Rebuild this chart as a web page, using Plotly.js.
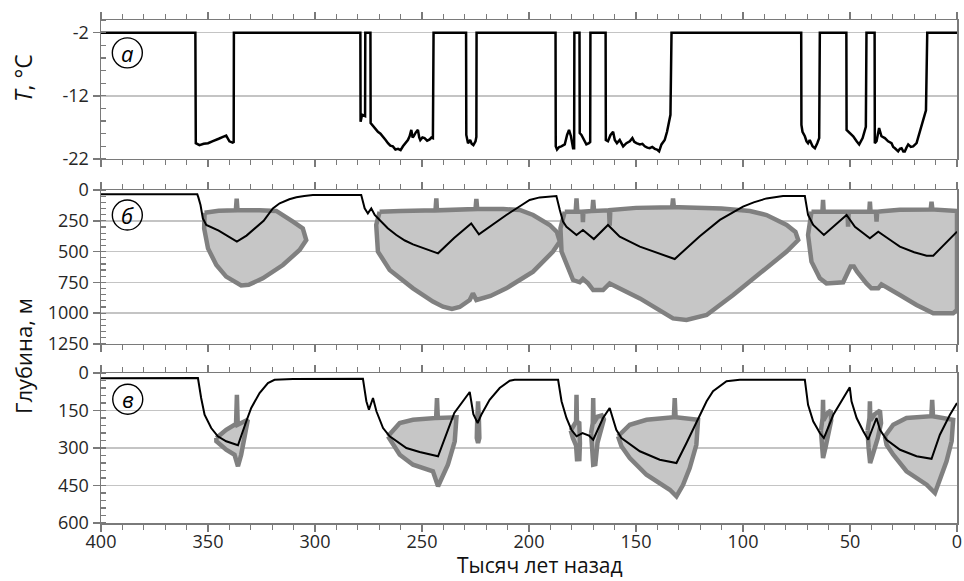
<!DOCTYPE html>
<html>
<head>
<meta charset="utf-8">
<script src="https://cdn.plot.ly/plotly-3.0.1.min.js"></script>
<style>html,body{margin:0;padding:0;background:#fff}#chart{width:964px;height:581px}</style>
</head>
<body>
<div id="chart"></div>
<script>
// ---------- Panel (a): temperature, °C ----------
const tempAge = [400,355.9,355.7,354,352,350,348,346,345,343,341.5,340,338.5,338.0,337.9,
 278.8,278.7,278,276.6,276.5,274.1,274,272.9,271.5,270.6,269.4,268.3,267,265.9,264.8,263.6,262.4,261.2,260,258.9,257.8,256.6,255.8,255,254.4,253.9,252.9,251.9,251.3,250.8,249.8,248.8,247.6,246.4,245.6,244.9,244.6,
 229.4,229.3,228.5,227.5,226.8,226,225,224.6,224.5,
 187.6,187.5,186.9,185.9,184.9,183.3,182.2,181.3,180.4,179.4,178.9,178.8,
 176.4,176.3,175.5,174.4,173.2,172,171.4,171.3,
 164.2,164.1,163.1,161.9,160.7,159.9,158.9,157.6,156.8,156,154.5,152.9,151.7,150.8,149.8,148.2,147,145.9,144.7,143.6,142.4,141.2,140.2,139.2,138.1,136.6,135.5,134.5,133.9,133.4,
 72.8,72.7,72.2,71.1,70.3,69.6,68.8,67.5,66.4,65.3,64.4,64.1,
 51.7,51.6,50.1,48.5,46.9,45.7,44.1,42.6,42.3,
 38.5,38.4,37.6,36.4,35.3,33.7,32.2,30.6,29.8,29,28.2,27.5,26.7,25.9,25.1,24.4,23.6,22.8,21.6,20.5,18.9,17.3,15.5,14.5,13.9,0];
const tempVal = [-2,-2,-19.5,-19.8,-19.6,-19.5,-19.2,-19.0,-18.8,-18.5,-18.3,-19.2,-19.4,-19.3,-2,
 -2,-16.1,-15,-15.2,-2,-2,-16.3,-16.8,-17.3,-17.7,-18.0,-18.4,-19.0,-19.5,-19.9,-20,-20.5,-20.4,-20.6,-20,-19.6,-19,-18.4,-17.4,-18.6,-18.4,-17.8,-17.4,-18.6,-19,-18.6,-18.7,-19.1,-18.9,-18.6,-18.7,-2,
 -2,-18.2,-19.5,-19,-19.6,-19.8,-19.2,-18.5,-2,
 -2,-20,-20.5,-20.1,-20,-19.7,-18.2,-17.4,-18.4,-20.3,-20.3,-2,
 -2,-17.9,-18.2,-19,-19.7,-19.5,-19.3,-2,
 -2,-19,-19.2,-18.2,-17.7,-19,-19.5,-19,-19.6,-20,-19.5,-19.2,-18.7,-19.3,-19.5,-19.7,-19.6,-20,-20.2,-20.3,-20.1,-20.4,-20.5,-20.8,-19.7,-19,-17.7,-15.6,-15,-2,
 -2,-16.6,-17.7,-18.4,-19.2,-19.5,-19,-20,-20.3,-19.5,-18.7,-2,
 -2,-17.4,-17.9,-18.4,-19.2,-19.7,-18.7,-16.9,-2,
 -2,-19.5,-19.2,-17.1,-18.4,-18.7,-19.2,-19.5,-20.1,-20.3,-20.6,-20.8,-20.4,-20.3,-20.8,-20.8,-20.2,-19.7,-20.1,-20,-19.5,-17.7,-15.8,-14.3,-2,-2];

// ---------- Panel (б): depth, m ----------
const bLineAge = [400,355,354.5,353.5,352.4,350.8,345,340,336.5,332,328,324,319.7,316.5,312,308.7,305,301,278.4,276.8,275.3,273.7,272.1,269.8,266,262,258,254.2,248,242.5,235,227,223.4,217,210.6,205,199.7,195,190,187.2,185.6,184.1,182.5,177.8,174.8,169.7,163.1,157.6,148.2,140,131.9,120.2,110.8,100,95,89,81.3,71.1,69.6,67.2,62.2,51.6,47.7,40.7,36.8,30,26.7,20,14.2,11.1,0];
const bLineDepth = [35,35,60,122,230,284,330,380,419,370,310,250,149,108,75,59,48,41,41,149,190,149,203,243,310,365,410,441,480,514,390,271,360,280,203,140,81,60,52,49,162,257,298,365,325,398,284,379,460,510,560,375,243,135,100,68,49,49,203,284,365,203,298,392,338,420,460,505,533,533,338];

const bZone1Age = [351.6,351.8,350,346.1,341.5,336.8,334.5,331,324.4,315,307.2,304.1,305.7,310.3,315,318.1,326,336.2,336.6,337,345,351.6];
const bZone1Depth = [185,311,474,609,703,758,775,770,717,609,487,406,311,257,203,170,165,165,70,165,168,185];
const bZone2Age = [269.8,271.4,270.6,265.1,254.2,244.9,240.2,236,232.4,227.7,226.2,224.6,218,210.6,198.1,188.8,185.6,187,190.3,198.1,204.3,212,224.2,224.6,225,243,243.3,243.7,260,269.8];
const bZone2Depth = [176,284,500,649,798,906,947,966,950,893,839,893,860,798,663,500,419,340,284,203,162,155,155,73,155,165,68,165,170,176];
const bZone3Age = [183.3,185.3,184.8,181.8,179.4,176.3,174.8,172.4,170,165.4,162.3,148.2,132.7,126.4,117,104.6,89,79.6,74.2,75.5,79.6,89,96.8,110,130,132.3,132.7,133.1,150,162,162.3,162.6,169.6,170,170.4,174.6,174.8,175,177.4,177.8,178.2,183.3];
const bZone3Depth = [176,311,500,636,731,749,722,758,812,812,758,880,1042,1055,1015,852,636,500,406,340,284,203,170,150,140,140,68,140,145,162,290,165,170,81,170,176,260,176,176,68,176,176];
const bZone4Age = [68,69.6,68,64.1,61,53.2,51.6,49.7,48.2,46.7,42.3,40,36.8,35.3,26.7,18.9,11.1,1.8,0,0,11.5,11.9,12.3,26.7,35,37.3,37.6,37.9,40.4,40.7,41,50.6,50.9,51.2,62.3,62.6,62.9,68];
const bZone4Depth = [176,365,582,717,758,749,690,622,622,663,758,798,798,766,852,933,1001,1001,974,170,158,95,158,160,172,176,257,176,176,95,176,176,298,176,176,81,176,176];

// ---------- Panel (в): depth, m ----------
const cLineAge = [400,354.7,353.2,351.6,348.5,345.4,341.5,336,332.1,329.8,325.9,322,318.9,310.3,277.6,276,274.8,272.9,271.3,268.2,265.1,257.3,251.1,242.5,234.9,227.7,226,224,222.3,218.4,213.7,209,206.7,186.4,184.8,182.5,180.2,177.8,175,172,170,167.5,165.4,162.3,159.2,156.8,148.2,138.9,131.1,126.4,121.7,117,114,110.8,107.7,101.5,71.1,69.6,67.2,64.1,62.2,57.8,53.2,50.1,49.3,46.9,43.8,41.5,37.6,36,32.9,26.6,18.9,11.9,8,3.3,0];
const cLineDepth = [21,20,100,167,220,253,273,289,193,140,80,40,27,24,23,113,147,100,153,220,253,300,316,333,160,76,165,200,167,107,60,31,27,27,113,180,227,253,240,250,267,220,180,140,227,260,313,347,360,280,193,113,73,53,33,27,27,127,193,240,260,167,100,57,113,180,233,267,180,227,267,307,333,343,247,167,120];

const cZoneAAge = [346.1,341.5,337.6,336.9,336.5,336.1,331.4,332.9,334.5,336,337.6,341.5,346.1,346.1];
const cZoneADepth = [260,227,207,207,87,207,187,260,327,373,327,307,273,260];
const cZoneBAge = [265.9,260.4,254.2,244.9,243.4,243,242.6,233.9,234.7,237.9,242.5,244.9,254.2,260.4,264.3,265.9];
const cZoneBDepth = [253,200,187,180,180,100,180,177,273,367,453,393,367,327,280,253];
const cZoneB2Age = [224.2,223.8,223.4,223.2,223.8,224.4,224.2];
const cZoneB2Depth = [190,113,190,260,280,260,190];
const cZoneC1Age = [180.5,179,178,177.8,177.6,176.5,176.2,176.5,177,177.5,178,179.5,180.5];
const cZoneC1Depth = [230,205,195,87,195,200,280,353,300,353,290,260,230];
const cZoneC2Age = [171,170.2,170,169.8,168,166,165,166.5,168,169,170,170.5,171];
const cZoneC2Depth = [240,200,100,200,175,170,185,230,280,365,367,300,240];
const cZoneDAge = [158.4,152.9,145.1,132.7,132.3,131.9,131.5,121,121.8,124.9,128,131.1,134.2,145.1,152.9,156.8,158.4];
const cZoneDDepth = [253,207,187,177,177,100,177,187,287,380,447,493,467,407,340,293,253];
const cZoneEAge = [63.6,63,62.8,62.6,62.4,60.5,59,58.8,59.8,61.5,62.6,63.2,63.6];
const cZoneEDepth = [230,190,180,107,190,160,150,190,240,300,340,290,230];
const cZoneFAge = [41.8,41,40.9,40.7,40.5,38.5,36,35.5,37,39.5,40.6,41.3,41.8];
const cZoneFDepth = [230,190,180,113,190,165,150,200,260,330,360,300,230];
const cZoneGAge = [33.7,29.8,23.6,12.7,12,11.6,11.2,1.8,2.5,4.9,8,10.3,14.2,23.6,29.8,32.9,33.7];
const cZoneGDepth = [253,207,180,173,173,107,173,187,273,353,433,480,447,393,327,287,253];

// ---------- Axis tick labels ----------
const xTickVals = [400,350,300,250,200,150,100,50,0];
const xTickText = ['400','350','300','250','200','150','100','50','0'];
const tTickVals = [-2,-12,-22];
const tTickText = ['-2','-12','-22'];
const bTickVals = [0,250,500,750,1000,1250];
const bTickText = ['0','250','500','750','1000','1250'];
const cTickVals = [0,150,300,450,600];
const cTickText = ['0','150','300','450','600'];

function joinZones(list){
  const xs=[], ys=[];
  list.forEach((z,i)=>{ if(i){xs.push(null);ys.push(null);} xs.push(...z[0]); ys.push(...z[1]); });
  return [xs,ys];
}
const bZones = joinZones([[bZone1Age,bZone1Depth],[bZone2Age,bZone2Depth],[bZone3Age,bZone3Depth],[bZone4Age,bZone4Depth]]);
const cZones = joinZones([[cZoneAAge,cZoneADepth],[cZoneBAge,cZoneBDepth],[cZoneB2Age,cZoneB2Depth],[cZoneC1Age,cZoneC1Depth],[cZoneC2Age,cZoneC2Depth],[cZoneDAge,cZoneDDepth],[cZoneEAge,cZoneEDepth],[cZoneFAge,cZoneFDepth],[cZoneGAge,cZoneGDepth]]);

const zoneLine = {color:'#808080', width:4.5};
const zoneFill = '#c6c6c6';

const traces = [
  {x:tempAge, y:tempVal, xaxis:'x', yaxis:'y', mode:'lines', line:{color:'#000', width:2.5}},
  {x:bZones[0], y:bZones[1], xaxis:'x2', yaxis:'y2', mode:'lines', fill:'toself', fillcolor:zoneFill, line:zoneLine},
  {x:bLineAge, y:bLineDepth, xaxis:'x2', yaxis:'y2', mode:'lines', line:{color:'#000', width:2}},
  {x:cZones[0], y:cZones[1], xaxis:'x3', yaxis:'y3', mode:'lines', fill:'toself', fillcolor:zoneFill, line:zoneLine},
  {x:cLineAge, y:cLineDepth, xaxis:'x3', yaxis:'y3', mode:'lines', line:{color:'#000', width:2}}
];

const tickFont = {family:'Open Sans, sans-serif', size:18, color:'#262626'};
const axLine = '#7a7a7a';
function xAx(anchor, labels){
  return {anchor:anchor, range:[400,0], tickmode:'array', tickvals:xTickVals, ticktext:xTickText,
    showticklabels:labels, ticks:'outside', ticklen:7, tickwidth:1.5, tickcolor:axLine,
    minor:{tickmode:'linear', tick0:0, dtick:10, ticks:'outside', ticklen:5, tickwidth:1.2, tickcolor:axLine, showgrid:false},
    showline:true, linecolor:axLine, linewidth:1.5, mirror:'ticks', showgrid:false, zeroline:false,
    tickfont:tickFont, ticklabelstandoff:-5};
}
function yAx(domain, range, vals, text, minorStep){
  return {domain:domain, range:range, tickmode:'array', tickvals:vals, ticktext:text,
    ticks:'outside', ticklen:7, tickwidth:1.5, tickcolor:axLine,
    minor:{tickmode:'linear', tick0:0, dtick:minorStep, ticks:'inside', ticklen:5, tickwidth:1.2, tickcolor:axLine, showgrid:false},
    showline:true, linecolor:axLine, linewidth:1.5, mirror:true,
    showgrid:true, gridcolor:'#c4c4c4', gridwidth:1.5, zeroline:false, tickfont:tickFont};
}

function circle(xa, ya, cx, cy){
  return {type:'circle', xref:xa, yref:ya, xsizemode:'pixel', ysizemode:'pixel', xanchor:cx, yanchor:cy,
    x0:-15, x1:15, y0:-15, y1:15, line:{color:'#000', width:1.4}};
}
function letter(xa, ya, cx, cy, t){
  return {xref:xa, yref:ya, x:cx, y:cy, text:'<i>'+t+'</i>', showarrow:false,
    font:{family:'Open Sans, sans-serif', size:22, color:'#000'}, xanchor:'center', yanchor:'middle'};
}

const layout = {
  width:964, height:581, margin:{l:101, r:7, t:20, b:58},
  paper_bgcolor:'#fff', plot_bgcolor:'#fff', showlegend:false, hovermode:false,
  xaxis:xAx('y', false), xaxis2:xAx('y2', false), xaxis3:xAx('y3', true),
  yaxis:yAx([0.7237,1], [-22,0], tTickVals, tTickText, 2),
  yaxis2:yAx([0.3559,0.662], [1250,0], bTickVals, bTickText, 50),
  yaxis3:yAx([0,0.2982], [600,0], cTickVals, cTickText, 30),
  shapes:[circle('x','y',387.7,-5.2), circle('x2','y2',387.7,203), circle('x3','y3',387.5,105)],
  annotations:[
    letter('x','y',387.7,-5.2,'a'), letter('x2','y2',387.7,203,'б'), letter('x3','y3',387.5,105,'в'),
    {xref:'paper', yref:'paper', x:-0.0911, y:0.8847, text:'<i>T</i>, °C', textangle:-90, showarrow:false,
      font:{family:'Open Sans, sans-serif', size:23, color:'#111'}, xanchor:'center', yanchor:'middle'},
    {xref:'paper', yref:'paper', x:-0.0911, y:0.332, text:'Глубина, м', textangle:-90, showarrow:false,
      font:{family:'Open Sans, sans-serif', size:22, color:'#111'}, xanchor:'center', yanchor:'middle'},
    {xref:'paper', yref:'paper', x:0.5129, y:-0.1153, text:'Тысяч лет назад', showarrow:false,
      font:{family:'Open Sans, sans-serif', size:21, color:'#111'}, xanchor:'center', yanchor:'bottom'}
  ]
};

Plotly.newPlot('chart', traces, layout, {staticPlot:true, displayModeBar:false});
</script>
</body>
</html>
